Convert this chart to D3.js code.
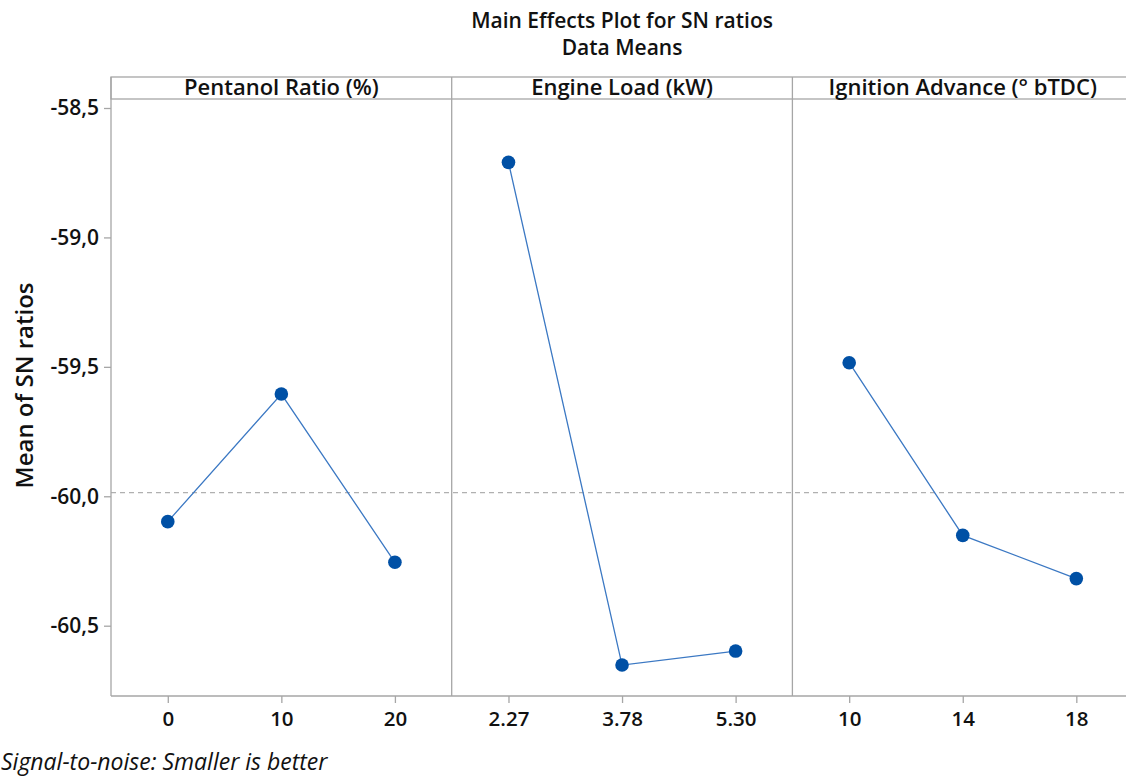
<!DOCTYPE html>
<html>
<head>
<meta charset="utf-8">
<script src="https://cdn.jsdelivr.net/npm/d3@7"></script>
<style>
  html, body { margin: 0; padding: 0; background: #fff; }
  svg { display: block; font-family: "Open Sans", "Noto Sans", sans-serif; }
</style>
</head>
<body>
<svg id="chart" width="1126" height="777"></svg>
<script>
// ---- data ----
const factors = ["Pentanol Ratio (%)", "Engine Load (kW)", "Ignition Advance (° bTDC)"];
const pentanolLevels = ["0", "10", "20"];
const pentanolMeans = [-60.098, -59.605, -60.255];
const loadLevels = ["2.27", "3.78", "5.30"];
const loadMeans = [-58.710, -60.652, -60.598];
const ignitionLevels = ["10", "14", "18"];
const ignitionMeans = [-59.484, -60.151, -60.318];
const yTicks = [-58.5, -59.0, -59.5, -60.0, -60.5];
const titleLines = ["Main Effects Plot for SN ratios", "Data Means"];
const yLabel = "Mean of SN ratios";
const footer = "Signal-to-noise: Smaller is better";

const panels = [
  { name: factors[0], levels: pentanolLevels, values: pentanolMeans },
  { name: factors[1], levels: loadLevels, values: loadMeans },
  { name: factors[2], levels: ignitionLevels, values: ignitionMeans }
];

// ---- layout ----
const svg = d3.select("#chart");
const left = 111, panelW = 340.7;
const headTop = 77, plotTop = 99, plotBottom = 696;
const right = left + panelW * panels.length;
const frame = "#a6a6a6";
const dotColor = "#0050a5";
const lineColor = "#3b78c3";
const ff = "\"Open Sans\", \"Noto Sans\", sans-serif";

const y = d3.scaleLinear().domain([-60.5, -58.5]).range([625.7, 108]);
const grandMean = d3.mean(pentanolMeans);

// title
svg.selectAll("text.title").data(titleLines).join("text")
  .attr("class", "title")
  .attr("x", (left + right) / 2)
  .attr("y", (d, i) => 28 + i * 27)
  .attr("text-anchor", "middle")
  .attr("font-size", 21)
  .attr("font-weight", 600)
  .attr("fill", "#111")
  .text(d => d);

// header box
svg.append("rect").attr("x", left).attr("y", headTop)
  .attr("width", right - left).attr("height", plotTop - headTop)
  .attr("fill", "none").attr("stroke", frame).attr("stroke-width", 1.3);

// reference dashed line
svg.append("line")
  .attr("x1", left).attr("x2", right)
  .attr("y1", y(grandMean)).attr("y2", y(grandMean))
  .attr("stroke", "#b0b0b0").attr("stroke-width", 1.3)
  .attr("stroke-dasharray", "5,4");

// y axis
const yAxis = d3.axisLeft(y).tickValues(yTicks)
  .tickFormat(d => d3.format(".1f")(d).replace("−", "-").replace(".", ","))
  .tickSize(7).tickPadding(5);
const yg = svg.append("g").attr("transform", `translate(${left},0)`).call(yAxis);
yg.select(".domain").remove();
yg.selectAll(".tick line").attr("stroke", frame).attr("stroke-width", 1.3);
yg.selectAll(".tick text").attr("font-size", 21).attr("font-weight", 600)
  .attr("fill", "#111").attr("font-family", ff);
svg.append("line").attr("x1", left).attr("x2", left)
  .attr("y1", headTop).attr("y2", plotBottom)
  .attr("stroke", frame).attr("stroke-width", 1.3);

// bottom axis line
svg.append("line").attr("x1", left).attr("x2", right)
  .attr("y1", plotBottom).attr("y2", plotBottom)
  .attr("stroke", frame).attr("stroke-width", 1.3);

// y label
svg.append("text")
  .attr("transform", `translate(33,${(plotTop + plotBottom) / 2 - 12}) rotate(-90)`)
  .attr("text-anchor", "middle")
  .attr("font-size", 24)
  .attr("font-weight", 600)
  .attr("fill", "#111")
  .text(yLabel);

// panels
panels.forEach((p, i) => {
  const x0 = left + i * panelW;
  const x = d3.scalePoint().domain(p.levels).range([x0, x0 + panelW]).padding(0.5);

  if (i > 0) {
    svg.append("line").attr("x1", x0).attr("x2", x0)
      .attr("y1", headTop).attr("y2", plotBottom)
      .attr("stroke", frame).attr("stroke-width", 1.3);
  }

  svg.append("text")
    .attr("x", x0 + panelW / 2).attr("y", 95)
    .attr("text-anchor", "middle")
    .attr("font-size", 22).attr("font-weight", 600)
    .attr("fill", "#111")
    .text(p.name);

  const xAxis = d3.axisBottom(x).tickSize(7).tickPadding(8);
  const xg = svg.append("g").attr("transform", `translate(0,${plotBottom})`).call(xAxis);
  xg.select(".domain").remove();
  xg.selectAll(".tick line").attr("stroke", frame).attr("stroke-width", 1.3);
  xg.selectAll(".tick text").attr("font-size", 20.5).attr("font-weight", 600)
    .attr("fill", "#111").attr("font-family", ff);

  const pts = p.levels.map((l, k) => [x(l), y(p.values[k])]);
  svg.append("path")
    .attr("d", d3.line()(pts))
    .attr("fill", "none").attr("stroke", lineColor).attr("stroke-width", 1.3);
  svg.selectAll(null).data(pts).join("circle")
    .attr("cx", d => d[0]).attr("cy", d => d[1]).attr("r", 6.8)
    .attr("fill", dotColor);
});

// footer
svg.append("text")
  .attr("x", 1).attr("y", 770)
  .attr("font-size", 23).attr("font-style", "italic")
  .attr("fill", "#111")
  .text(footer);
</script>
</body>
</html>
